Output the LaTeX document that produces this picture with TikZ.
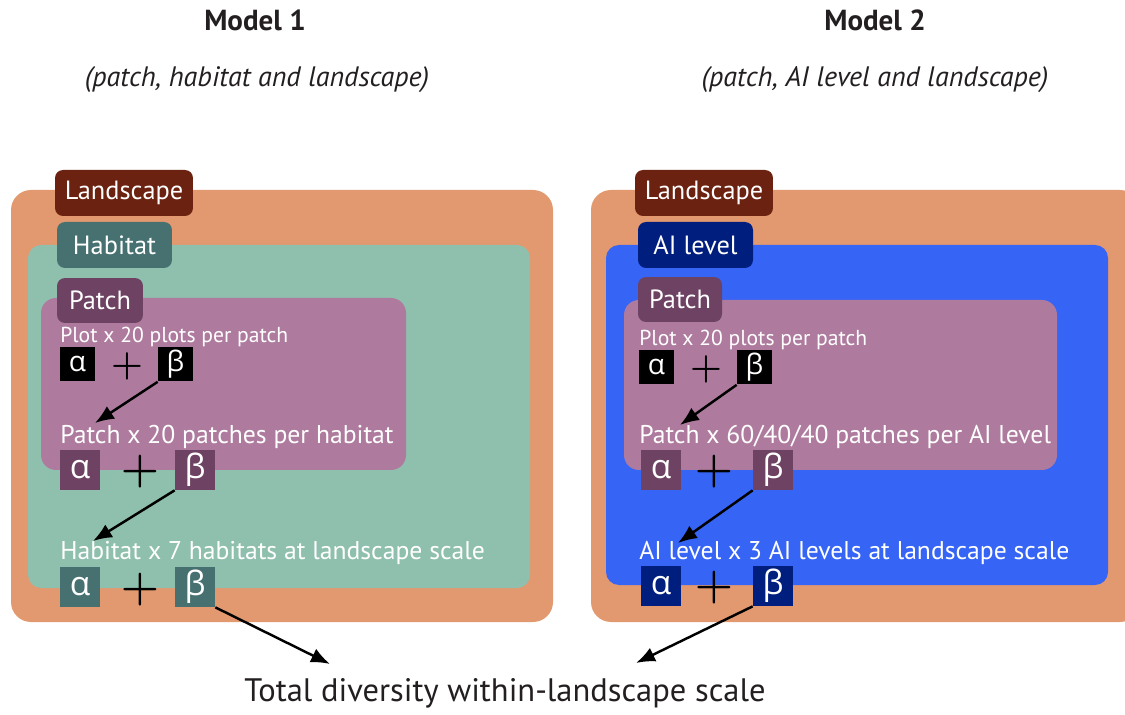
\documentclass[tikz,border=0pt]{standalone}
\usepackage{fontspec}
\setmainfont{PT Sans}
\newfontfamily\greekfont{Open Sans}
\usetikzlibrary{positioning,arrows.meta}

\definecolor{landbg}{RGB}{227,153,111}
\definecolor{landtag}{RGB}{107,34,16}
\definecolor{habbg}{RGB}{143,191,173}
\definecolor{habtag}{RGB}{70,113,112}
\definecolor{patchbg}{RGB}{174,123,158}
\definecolor{patchtag}{RGB}{110,66,98}
\definecolor{aibg}{RGB}{54,100,245}
\definecolor{aitag}{RGB}{0,30,126}
\definecolor{ink}{RGB}{35,31,32}

\tikzset{
  tag/.style={rounded corners=0.16cm, text=white, minimum height=0.92cm, inner sep=0pt, font=\fontsize{15}{17}\selectfont},
  leveltext/.style={text=white, anchor=west, inner sep=0pt, font=\fontsize{14.6}{16}\selectfont},
  plottext/.style={text=white, anchor=west, inner sep=0pt, font=\fontsize{12.3}{14}\selectfont},
  gbox/.style={text=white, minimum size=0.8cm, inner sep=0pt, font=\greekfont\fontsize{19}{21}\selectfont},
  gsmall/.style={text=white, minimum size=0.7cm, inner sep=0pt, font=\greekfont\fontsize{16}{18}\selectfont},
  plus/.style={text=black, inner sep=0pt, font=\boldmath\fontsize{30}{32}\selectfont},
  plussmall/.style={text=black, inner sep=0pt, font=\boldmath\fontsize{21}{23}\selectfont},
  flow/.style={line width=1.4pt, black, -{Latex[length=0.38cm,width=0.3cm]}}
}

\begin{document}
\begin{tikzpicture}[x=0.02cm, y=-0.02cm]
    \useasboundingbox (0,0) rectangle (1125,715);

    % Titles
    \node[font=\bfseries\fontsize{16.5}{19}\selectfont, text=ink] (title1) at (255,20) {Model 1};
    \node[font=\bfseries\fontsize{16.5}{19}\selectfont, text=ink] (title2) at (875,20) {Model 2};
    \node[font=\itshape\fontsize{16}{19}\selectfont, text=ink] (sub1) at (257,80) {(patch, habitat and landscape)};
    \node[font=\itshape\fontsize{16}{19}\selectfont, text=ink] (sub2) at (875,80) {(patch, AI level and landscape)};

    % Model 1 containers
    \fill[landbg, rounded corners=0.4cm] (11,190) rectangle (553,622);
    \fill[habbg, rounded corners=0.26cm] (28,245) rectangle (530,588);
    \fill[patchbg, rounded corners=0.3cm] (41,298) rectangle (406,470);

    \node[tag, fill=landtag, minimum width=2.76cm] (land1) at (124,193) {Landscape};
    \node[tag, fill=habtag, minimum width=2.3cm] (hab1) at (114.5,245) {Habitat};
    \node[tag, fill=patchtag, minimum width=1.72cm, minimum height=0.9cm] (patch1) at (100,300.5) {Patch};

    % Model 1 plot level
    \node[plottext] (plot1) at (60,337) {Plot x 20 plots per patch};
    \node[gsmall, fill=black] (pa1) at (77.5,364) {α};
    \node[plussmall] (pp1) at (127,366) {$+$};
    \node[gsmall, fill=black] (pb1) at (175.5,364) {β};

    % Model 1 patch level
    \node[leveltext] (ptext1) at (60,437) {Patch x 20 patches per habitat};
    \node[gbox, fill=patchtag] (qa1) at (80,470) {α};
    \node[plus] (qp1) at (140,472) {$+$};
    \node[gbox, fill=patchtag] (qb1) at (195,470) {β};

    % Model 1 habitat level
    \node[leveltext] (htext1) at (60,553) {Habitat x 7 habitats at landscape scale};
    \node[gbox, fill=habtag] (ha1) at (80,587) {α};
    \node[plus] (hp1) at (140,590) {$+$};
    \node[gbox, fill=habtag] (hb1) at (195,587) {β};

    % Model 2 containers
    \fill[landbg, rounded corners=0.4cm] (591,190) rectangle (1140,622);
    \fill[aibg, rounded corners=0.26cm] (606,245) rectangle (1108,585);
    \fill[patchbg, rounded corners=0.3cm] (624,300) rectangle (1057,470);

    \node[tag, fill=landtag, minimum width=2.76cm] (land2) at (704,193) {Landscape};
    \node[tag, fill=aitag, minimum width=2.3cm] (ai2) at (695.5,245) {AI level};
    \node[tag, fill=patchtag, minimum width=1.68cm, minimum height=0.9cm] (patch2) at (680,299.5) {Patch};

    % Model 2 plot level
    \node[plottext] (plot2) at (639,340) {Plot x 20 plots per patch};
    \node[gsmall, fill=black] (pa2) at (656.5,367) {α};
    \node[plussmall] (pp2) at (706,369) {$+$};
    \node[gsmall, fill=black] (pb2) at (754.5,367) {β};

    % Model 2 patch level
    \node[leveltext] (ptext2) at (639,437) {Patch x 60/40/40 patches per AI level};
    \node[gbox, fill=patchtag] (qa2) at (661,470) {α};
    \node[plus] (qp2) at (714,472) {$+$};
    \node[gbox, fill=patchtag] (qb2) at (773,470) {β};

    % Model 2 AI level
    \node[leveltext] (atext2) at (639,553) {AI level x 3 AI levels at landscape scale};
    \node[gbox, fill=aitag] (aa2) at (661,586) {α};
    \node[plus] (ap2) at (714,588) {$+$};
    \node[gbox, fill=aitag] (ab2) at (773,586) {β};

    % Total
    \node[font=\fontsize{18.5}{22}\selectfont, text=ink] (total) at (505,693) {Total diversity within-landscape scale};

    % Arrows between levels
    \coordinate (e1) at (95,423);
    \coordinate (e2) at (93,541);
    \coordinate (e3) at (330,664);
    \coordinate (e4) at (680,425);
    \coordinate (e5) at (678,543);
    \coordinate (e6) at (636,663);
    \draw[flow] (pb1.south west) -- (e1);
    \draw[flow] (qb1.south west) -- (e2);
    \draw[flow] (hb1.south east) -- (e3);
    \draw[flow] (pb2.south west) -- (e4);
    \draw[flow] (qb2.south west) -- (e5);
    \draw[flow] (ab2.south west) -- (e6);
\end{tikzpicture}
\end{document}
